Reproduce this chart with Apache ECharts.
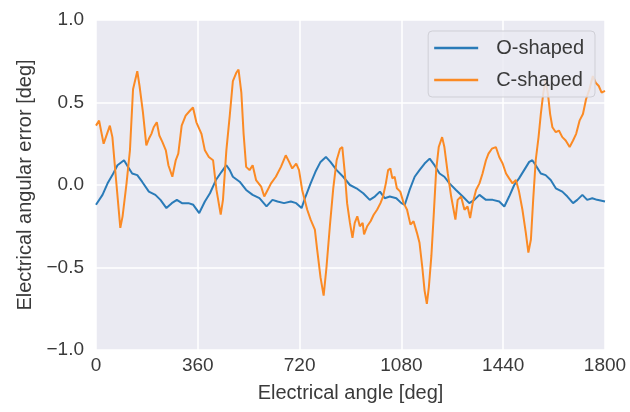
<!DOCTYPE html>
<html>
<head>
<meta charset="utf-8">
<script src="https://cdn.jsdelivr.net/npm/echarts@6/dist/echarts.min.js"></script>
<style>
  html, body { margin: 0; padding: 0; background: #fff; }
  #chart { width: 630px; height: 412px; }
</style>
</head>
<body>
<div id="chart"></div>
<script>
// O-shaped (blue) trace
const oAngle = [0, 6, 23, 41, 58, 76, 99, 113, 128, 146, 163, 187, 210, 228, 249, 268, 286, 304, 327, 344,
  365, 385, 403, 424, 444, 461, 473, 484, 508, 531, 554, 578, 603, 624, 642, 665, 689, 708, 727, 741,
  759, 776, 794, 813, 829, 851, 874, 898, 921, 945, 968, 986, 1004, 1021, 1039, 1062, 1080, 1092, 1109, 1127,
  1144, 1162, 1180, 1197, 1215, 1232, 1250, 1273, 1297, 1320, 1338, 1356, 1379, 1403, 1426, 1444, 1461, 1479, 1496, 1514,
  1532, 1543, 1555, 1573, 1590, 1608, 1626, 1649, 1667, 1687, 1702, 1720, 1737, 1755, 1772, 1800];
const oError = [-0.12, -0.12, -0.06, 0.01, 0.06, 0.12, 0.15, 0.11, 0.07, 0.06, 0.02, -0.04, -0.06, -0.09, -0.14, -0.11, -0.09, -0.11, -0.11, -0.12,
  -0.17, -0.10, -0.05, 0.03, 0.08, 0.12, 0.09, 0.05, 0.02, -0.03, -0.06, -0.08, -0.13, -0.09, -0.10, -0.11, -0.10, -0.11, -0.14, -0.07,
  0.01, 0.08, 0.14, 0.17, 0.14, 0.09, 0.05, 0.00, -0.02, -0.05, -0.09, -0.07, -0.04, -0.08, -0.07, -0.08, -0.11, -0.12, -0.03, 0.05,
  0.09, 0.13, 0.16, 0.12, 0.07, 0.05, 0.01, -0.03, -0.07, -0.11, -0.09, -0.06, -0.09, -0.09, -0.10, -0.13, -0.07, 0.00, 0.04, 0.09,
  0.14, 0.15, 0.12, 0.07, 0.06, 0.03, -0.02, -0.04, -0.07, -0.11, -0.09, -0.06, -0.09, -0.08, -0.09, -0.10];

// C-shaped (orange) trace
const cAngle = [0, 6, 11, 19, 27, 35, 49, 58, 70, 86, 94, 108, 120, 131, 146, 154, 166, 178, 187, 196,
  204, 215, 224, 235, 247, 256, 270, 282, 291, 303, 317, 332, 343, 355, 373, 385, 399, 414, 426, 441,
  449, 461, 473, 484, 496, 504, 514, 522, 531, 543, 554, 566, 584, 595, 607, 619, 636, 654, 671, 683,
  694, 708, 718, 729, 747, 759, 774, 782, 794, 805, 815, 827, 839, 851, 863, 871, 880, 888, 898, 907,
  915, 924, 933, 943, 948, 959, 971, 982, 994, 1006, 1015, 1025, 1033, 1041, 1048, 1056, 1064, 1076, 1088, 1100,
  1112, 1123, 1135, 1144, 1154, 1162, 1170, 1177, 1186, 1194, 1203, 1212, 1224, 1232, 1244, 1256, 1271, 1279, 1291, 1303,
  1314, 1323, 1332, 1344, 1356, 1367, 1379, 1388, 1400, 1414, 1426, 1438, 1450, 1461, 1473, 1485, 1496, 1508, 1520, 1529,
  1538, 1546, 1555, 1565, 1573, 1582, 1590, 1599, 1606, 1614, 1626, 1637, 1649, 1661, 1675, 1687, 1698, 1710, 1722, 1733,
  1745, 1757, 1767, 1778, 1788, 1800];
const cError = [0.36, 0.37, 0.39, 0.32, 0.25, 0.29, 0.36, 0.29, 0.05, -0.26, -0.19, 0.01, 0.21, 0.58, 0.69, 0.60, 0.44, 0.24, 0.28, 0.31,
  0.35, 0.38, 0.30, 0.26, 0.21, 0.12, 0.05, 0.15, 0.19, 0.36, 0.42, 0.45, 0.47, 0.38, 0.31, 0.21, 0.17, 0.15, -0.03, -0.18,
  -0.09, 0.21, 0.42, 0.63, 0.68, 0.70, 0.56, 0.31, 0.11, 0.09, 0.12, 0.03, -0.01, -0.07, -0.03, 0.01, 0.05, 0.11, 0.18, 0.14,
  0.10, 0.13, 0.09, -0.03, -0.15, -0.21, -0.27, -0.39, -0.56, -0.67, -0.50, -0.25, -0.02, 0.15, 0.22, 0.23, 0.07, -0.11, -0.23, -0.32,
  -0.23, -0.19, -0.25, -0.23, -0.30, -0.25, -0.22, -0.18, -0.15, -0.11, -0.07, 0.01, 0.09, 0.10, 0.04, 0.05, -0.02, -0.04, -0.11, -0.15,
  -0.24, -0.22, -0.29, -0.35, -0.50, -0.64, -0.72, -0.62, -0.43, -0.19, 0.09, 0.23, 0.29, 0.23, 0.07, -0.07, -0.21, -0.09, -0.07, -0.15,
  -0.13, -0.20, -0.11, -0.03, 0.01, 0.07, 0.15, 0.19, 0.22, 0.23, 0.17, 0.13, 0.07, 0.04, 0.01, 0.03, -0.04, -0.15, -0.29, -0.41,
  -0.33, -0.09, 0.15, 0.29, 0.43, 0.56, 0.64, 0.54, 0.43, 0.35, 0.32, 0.33, 0.29, 0.27, 0.23, 0.27, 0.31, 0.39, 0.43, 0.52,
  0.58, 0.66, 0.62, 0.60, 0.56, 0.57];

const xTicks = [0, 360, 720, 1080, 1440, 1800];
const yTicks = [-1.0, -0.5, 0.0, 0.5, 1.0];

const pairs = (xs, ys) => xs.map((x, i) => [x, ys[i]]);
const FONT = "'Liberation Sans', Arial, sans-serif";

const myChart = echarts.init(document.getElementById('chart'));
const option = {
  animation: false,
  backgroundColor: '#ffffff',
  textStyle: { fontFamily: FONT },
  grid: {
    left: 96,
    right: 25,
    top: 20,
    bottom: 62,
    show: true,
    backgroundColor: '#EAEAF2',
    borderWidth: 0
  },
  legend: {
    orient: 'vertical',
    right: 35,
    top: 31,
    padding: [7, 11, 7, 6],
    itemGap: 12,
    itemWidth: 44,
    itemHeight: 2.5,
    icon: 'rect',
    backgroundColor: 'rgba(234,234,242,0.85)',
    borderColor: '#cfcfd6',
    borderWidth: 1,
    borderRadius: 4,
    textStyle: { color: '#3a3a3a', fontSize: 20, fontFamily: FONT, padding: [0, 0, 0, 13] },
    data: ['O-shaped', 'C-shaped']
  },
  xAxis: {
    type: 'value',
    min: xTicks[0],
    max: xTicks[xTicks.length - 1],
    interval: 360,
    name: 'Electrical angle [deg]',
    nameLocation: 'middle',
    nameGap: 33,
    nameTextStyle: { color: '#3a3a3a', fontSize: 20, fontFamily: FONT },
    axisLine: { show: false },
    axisTick: { show: false },
    axisLabel: { color: '#3a3a3a', fontSize: 19, margin: 6, fontFamily: FONT, formatter: v => String(v) },
    splitLine: { show: true, lineStyle: { color: '#ffffff', width: 1.5 } }
  },
  yAxis: {
    type: 'value',
    min: yTicks[0],
    max: yTicks[yTicks.length - 1],
    interval: 0.5,
    name: 'Electrical angular error [deg]',
    nameLocation: 'middle',
    nameGap: 60,
    nameTextStyle: { color: '#3a3a3a', fontSize: 20, fontFamily: FONT },
    axisLine: { show: false },
    axisTick: { show: false },
    axisLabel: {
      color: '#3a3a3a', fontSize: 19, margin: 12, fontFamily: FONT,
      formatter: v => v.toFixed(1).replace('-', '\u2212')
    },
    splitLine: { show: true, lineStyle: { color: '#ffffff', width: 1.5 } }
  },
  series: [
    {
      name: 'O-shaped',
      type: 'line',
      data: pairs(oAngle, oError),
      showSymbol: false,
      symbol: 'none',
      color: '#2a7bb8',
      lineStyle: { width: 2, color: '#2a7bb8' },
      z: 2
    },
    {
      name: 'C-shaped',
      type: 'line',
      data: pairs(cAngle, cError),
      showSymbol: false,
      symbol: 'none',
      color: '#fb8a24',
      lineStyle: { width: 2, color: '#fb8a24' },
      z: 3
    }
  ]
};
myChart.setOption(option);
</script>
</body>
</html>
